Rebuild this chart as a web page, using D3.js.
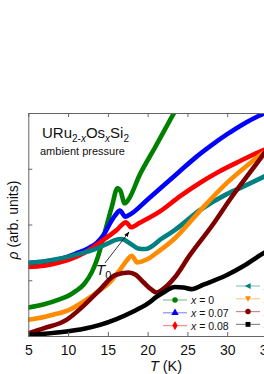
<!DOCTYPE html>
<html>
<head>
<meta charset="utf-8">
<script src="https://cdnjs.cloudflare.com/ajax/libs/d3/7.8.5/d3.min.js"></script>
<style>
  html, body { margin: 0; padding: 0; background: #fff; overflow: hidden; }
  svg { display: block; font-family: "Liberation Sans", Arial, sans-serif; }
</style>
</head>
<body>
<svg id="chart" width="264" height="374"></svg>
<script>
//----- Data (rho in tick units) -----
var xTicks = [5, 10, 15, 20, 25, 30, 35];
var yTicks = [0, 1, 2, 3, 4];

var tempX0 = [5, 7, 9, 10, 11, 12, 13, 13.7, 14.5, 15.5, 16.2, 16.6, 17.1, 17.6, 19, 21, 23, 24.5];
var rhoX0  = [0.51, 0.57, 0.66, 0.72, 0.81, 0.93, 1.15, 1.4, 1.8, 2.32, 2.65, 2.6, 2.38, 2.45, 2.89, 3.4, 3.92, 4.3];

var tempX007 = [5, 7, 9, 11, 12.5, 13.6, 14.5, 15.3, 16.0, 16.5, 17.2, 18, 20, 22, 24, 26, 28, 30, 32, 34, 35.5];
var rhoX007  = [1.31, 1.33, 1.38, 1.48, 1.57, 1.67, 1.82, 2.03, 2.18, 2.25, 2.14, 2.2, 2.45, 2.7, 2.95, 3.2, 3.42, 3.62, 3.8, 3.95, 4.05];

var tempX008 = [5, 7, 9, 11, 12.5, 14.4, 16.1, 17.3, 17.9, 19, 21.5, 24, 26.6, 29, 31.5, 34.5, 35.5];
var rhoX008  = [1.24, 1.26, 1.32, 1.42, 1.53, 1.72, 1.9, 2.04, 1.95, 2.03, 2.23, 2.5, 2.75, 2.95, 3.13, 3.33, 3.38];

var tempX010 = [5, 7, 9, 11, 13.4, 15.0, 15.9, 16.7, 17.8, 18.8, 19.7, 21.8, 23.4, 26.6, 30, 32, 34.5, 35.5];
var rhoX010  = [1.31, 1.34, 1.39, 1.46, 1.56, 1.66, 1.72, 1.74, 1.66, 1.57, 1.56, 1.75, 1.9, 2.26, 2.55, 2.68, 2.85, 2.92];

var tempX015 = [5, 7, 8.1, 10, 12.3, 14, 15.3, 16.5, 17.4, 18.0, 18.7, 20, 21.3, 23.4, 26.6, 30, 32, 34.5, 35.5];
var rhoX015  = [0.29, 0.34, 0.38, 0.46, 0.65, 0.82, 0.97, 1.18, 1.36, 1.44, 1.32, 1.38, 1.51, 1.75, 2.25, 2.75, 3.0, 3.28, 3.38];

var tempX020 = [5, 7, 9.8, 12, 14, 15.9, 17.6, 18.5, 19.5, 20.5, 21.1, 22, 23.4, 25.3, 28.2, 30.3, 34.5, 35.5];
var rhoX020  = [0.05, 0.14, 0.29, 0.55, 0.83, 1.09, 1.14, 1.1, 0.96, 0.83, 0.78, 0.85, 1.05, 1.45, 2.0, 2.44, 3.25, 3.45];

var tempX030 = [5, 7, 9.8, 12, 14, 16, 18.2, 20, 21.1, 22.2, 23.4, 24.5, 25.5, 27, 29.9, 32, 34.5, 35.5];
var rhoX030  = [0.02, 0.04, 0.08, 0.13, 0.2, 0.3, 0.44, 0.58, 0.7, 0.8, 0.88, 0.87, 0.84, 0.92, 1.09, 1.25, 1.48, 1.56];

var seriesNames   = ['0', '0.07', '0.08', '0.1', '0.15', '0.2', '0.3'];
var seriesColors  = ['#008000', '#0000ff', '#ff0000', '#008080', '#ff8c00', '#800000', '#000000'];
var seriesSymbols = [d3.symbolCircle, d3.symbolTriangle, d3.symbolDiamond, 'left', 'down', d3.symbolCircle, d3.symbolSquare];
var seriesTemps   = [tempX0, tempX007, tempX008, tempX010, tempX015, tempX020, tempX030];
var seriesRhos    = [rhoX0, rhoX007, rhoX008, rhoX010, rhoX015, rhoX020, rhoX030];

//----- Layout -----
var plotLeft = 28.3, plotRight = 267, plotTop = 113, plotBottom = 336;

var x = d3.scaleLinear().domain([5, 35]).range([plotLeft, plotRight]);
var y = d3.scaleLinear().domain([0, 4]).range([plotBottom, plotTop]);

var svg = d3.select('#chart');
var defs = svg.append('defs');

defs.append('clipPath').attr('id', 'plotClip')
    .append('rect')
    .attr('x', plotLeft).attr('y', plotTop)
    .attr('width', plotRight - plotLeft).attr('height', plotBottom - plotTop);

// Curves
var line = d3.line()
  .x(function(d) { return x(d[0]); })
  .y(function(d) { return y(d[1]); })
  .curve(d3.curveMonotoneX);

var curves = svg.append('g').attr('clip-path', 'url(#plotClip)');
seriesNames.forEach(function(name, i){
  var pts = seriesTemps[i].map(function(t, j) { return [t, seriesRhos[i][j]]; });
  curves.append('path')
        .datum(pts)
        .attr('d', line)
        .attr('fill', 'none')
        .attr('stroke', seriesColors[i])
        .attr('stroke-width', 4.6)
        .attr('stroke-linejoin', 'round')
        .attr('stroke-linecap', 'round');
});

//----- Axes (ticks inside, frame) -----
var frameColor = '#666';

svg.append('g')
   .attr('transform', 'translate(0,' + plotBottom + ')')
   .call(d3.axisBottom(x).tickValues(xTicks).tickSizeInner(-4).tickSizeOuter(0).tickPadding(9))
   .call(function(g){
     g.select('.domain').attr('stroke', frameColor);
     g.selectAll('.tick line').attr('stroke', frameColor);
     g.selectAll('.tick text')
      .attr('font-family', '"Liberation Sans", Arial, sans-serif')
      .attr('font-size', 14).attr('fill', '#111');
   });

svg.append('g')
   .attr('transform', 'translate(0,' + plotTop + ')')
   .call(d3.axisTop(x).tickValues(xTicks).tickSizeInner(-4).tickSizeOuter(0).tickFormat(''))
   .call(function(g){
     g.select('.domain').attr('stroke', frameColor);
     g.selectAll('.tick line').attr('stroke', frameColor);
   });

svg.append('g')
   .attr('transform', 'translate(' + plotLeft + ',0)')
   .call(d3.axisLeft(y).tickValues(yTicks).tickSizeInner(-4).tickSizeOuter(0).tickFormat(''))
   .call(function(g){
     g.select('.domain').attr('stroke', frameColor);
     g.selectAll('.tick line').attr('stroke', frameColor);
   });

// Axis titles
var xTitle = svg.append('text')
  .attr('x', 166).attr('y', 371)
  .attr('text-anchor', 'middle')
  .attr('font-size', 14.5).attr('fill', '#111');
xTitle.append('tspan').attr('font-style', 'italic').text('T');
xTitle.append('tspan').text(' (K)');

var yTitle = svg.append('text')
  .attr('transform', 'translate(18,220) rotate(-90)')
  .attr('text-anchor', 'middle')
  .attr('font-size', 14).attr('fill', '#111');
yTitle.append('tspan').attr('font-style', 'italic').text('\u03c1');
yTitle.append('tspan').text(' (arb. units)');

//----- Annotations -----
var title = svg.append('text')
  .attr('x', 42).attr('y', 138)
  .attr('font-size', 15).attr('fill', '#111');
title.append('tspan').text('URu');
title.append('tspan').attr('font-size', 10).attr('dy', 4).text('2-');
title.append('tspan').attr('font-size', 10).attr('font-style', 'italic').text('x');
title.append('tspan').attr('dy', -4).text('Os');
title.append('tspan').attr('font-size', 10).attr('font-style', 'italic').attr('dy', 4).text('x');
title.append('tspan').attr('dy', -4).text('Si');
title.append('tspan').attr('font-size', 10).attr('dy', 4).text('2');

svg.append('text')
   .attr('x', 40).attr('y', 155)
   .attr('font-size', 11).attr('fill', '#111')
   .text('ambient pressure');

// T0 arrow
defs.append('marker')
   .attr('id', 'arrowHead')
   .attr('viewBox', '0 0 10 10')
   .attr('refX', 9).attr('refY', 5)
   .attr('markerWidth', 7).attr('markerHeight', 7)
   .attr('orient', 'auto')
   .append('path').attr('d', 'M0,1.5 L10,5 L0,8.5 Z').attr('fill', '#000');

svg.append('line')
   .attr('x1', 105).attr('y1', 263)
   .attr('x2', 129).attr('y2', 232)
   .attr('stroke', '#000').attr('stroke-width', 0.8)
   .attr('marker-end', 'url(#arrowHead)');

var t0 = svg.append('text')
  .attr('x', 96).attr('y', 275)
  .attr('font-size', 15).attr('fill', '#111');
t0.append('tspan').attr('font-style', 'italic').text('T');
t0.append('tspan').attr('font-size', 11).attr('dy', 4).text('0');

//----- Legend -----
function symbolPath(sym){
  if (sym === 'left') return 'M-3.2,0 L2.6,-3 L2.6,3 Z';
  if (sym === 'down') return 'M-3,-2.5 L3,-2.5 L0,3 Z';
  return d3.symbol().type(sym).size(24)();
}

var legendRows = [
  {col: 0, row: 0}, {col: 0, row: 1}, {col: 0, row: 2},
  {col: 1, row: 0}, {col: 1, row: 1}, {col: 1, row: 2}, {col: 1, row: 3}
];
var colX = [163, 236], colY = [300, 286];

var legend = svg.append('g');
legendRows.forEach(function(pos, i){
  var lx = colX[pos.col], ly = colY[pos.col] + pos.row * 12.8;
  var g = legend.append('g').attr('transform', 'translate(' + lx + ',' + ly + ')');
  g.append('line')
   .attr('x1', 0).attr('x2', 24).attr('y1', 0).attr('y2', 0)
   .attr('stroke', seriesColors[i]).attr('stroke-opacity', 0.45).attr('stroke-width', 1.2);
  g.append('path')
   .attr('transform', 'translate(12,0)')
   .attr('d', symbolPath(seriesSymbols[i]))
   .attr('fill', seriesColors[i]);
  var t = g.append('text')
   .attr('x', 28).attr('y', 4)
   .attr('font-size', 10.5).attr('fill', '#111');
  t.append('tspan').attr('font-style', 'italic').text('x');
  t.append('tspan').text(' = ' + seriesNames[i]);
});
</script>
</body>
</html>
